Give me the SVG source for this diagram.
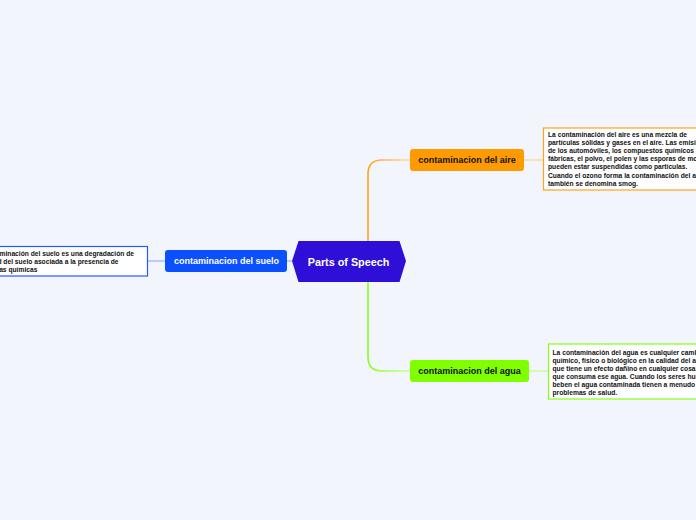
<svg xmlns="http://www.w3.org/2000/svg" width="696" height="520" viewBox="0 0 696 520">
<defs>
<style>
.bg{fill:#f3f5fd}
.lbl{font-family:"Liberation Sans",Arial,sans-serif;font-weight:bold;font-size:9px;text-anchor:middle;dominant-baseline:central}
.big{font-size:10.8px}
.note{font-family:"Liberation Sans",Arial,sans-serif;font-weight:bold;font-size:6.7px;fill:#111}
.conn{fill:none;stroke-width:1.6}
</style>
<linearGradient id="gO" gradientUnits="userSpaceOnUse" x1="368" y1="0" x2="410" y2="0">
<stop offset="0" stop-color="#ffa31a"/><stop offset="1" stop-color="#ffd9a3"/>
</linearGradient>
<linearGradient id="gG" gradientUnits="userSpaceOnUse" x1="368" y1="0" x2="410" y2="0">
<stop offset="0" stop-color="#86ff14"/><stop offset="1" stop-color="#c8ff99"/>
</linearGradient>
</defs>
<rect class="bg" x="0" y="0" width="696" height="520"/>
<g id="connectors">
<path class="conn" stroke="url(#gO)" d="M368 241 V174 Q368 160 382 160 H410"/>
<path class="conn" stroke="url(#gG)" d="M368 282 V357 Q368 371 382 371 H410"/>
<path class="conn" stroke="#ffd9a3" d="M524 160 H543"/>
<path class="conn" stroke="#c8ff99" d="M529 371 H548"/>
<path class="conn" stroke="#a9c0ff" d="M287 261 H292"/>
<path class="conn" stroke="#a9c0ff" d="M148 261 H165"/>
</g>
<g id="central">
<path d="M292 261 L298.5 241 H399.5 L406 261 L399.5 282 H298.5 Z" fill="#2f0fd8"/>
<text class="lbl big" x="348.5" y="261.5" fill="#ffffff">Parts of Speech</text>
</g>
<g id="aire">
<rect x="410" y="149" width="114" height="22" rx="3" fill="#ff9a00"/>
<text class="lbl" x="467" y="160" fill="#111">contaminacion del aire</text>
</g>
<g id="agua">
<rect x="410" y="360" width="119" height="22" rx="3" fill="#80ff00"/>
<text class="lbl" x="469.5" y="371" fill="#111">contaminacion del agua</text>
</g>
<g id="suelo">
<rect x="165" y="250" width="122" height="22" rx="3" fill="#0a50ff"/>
<text class="lbl" x="226.5" y="261" fill="#ffffff">contaminacion del suelo</text>
</g>
<g id="nota-aire">
<rect x="543.5" y="128" width="160" height="62" fill="#ffffff" stroke="#ffa31a" stroke-width="1.2"/>
<text class="note" x="548" y="136.5">La contaminación del aire es una mezcla de</text>
<text class="note" x="548" y="144.7">partículas sólidas y gases en el aire. Las emisiones</text>
<text class="note" x="548" y="152.9">de los automóviles, los compuestos químicos de</text>
<text class="note" x="548" y="161.1">fábricas, el polvo, el polen y las esporas de moho</text>
<text class="note" x="548" y="169.3">pueden estar suspendidas como partículas.</text>
<text class="note" x="548" y="177.5">Cuando el ozono forma la contaminación del aire</text>
<text class="note" x="548" y="185.7">también se denomina smog.</text>
</g>
<g id="nota-agua">
<rect x="548.5" y="344" width="160" height="55" fill="#ffffff" stroke="#86ff14" stroke-width="1.2"/>
<text class="note" x="552.5" y="354.5">La contaminación del agua es cualquier cambio</text>
<text class="note" x="552.5" y="362.5">químico, físico o biológico en la calidad del agua</text>
<text class="note" x="552.5" y="370.5">que tiene un efecto dañino en cualquier cosa viva</text>
<text class="note" x="552.5" y="378.5">que consuma ese agua. Cuando los seres humanos</text>
<text class="note" x="552.5" y="386.5">beben el agua contaminada tienen a menudo</text>
<text class="note" x="552.5" y="394.5">problemas de salud.</text>
</g>
<g id="nota-suelo">
<rect x="-40" y="246.5" width="187.5" height="29.5" fill="#ffffff" stroke="#1f5bff" stroke-width="1.2"/>
<text class="note" x="-28" y="255.5">La contaminación del suelo es una degradación de</text>
<text class="note" x="-29" y="263.5">la calidad del suelo asociada a la presencia de</text>
<text class="note" x="-28" y="271.5">sustancias químicas</text>
</g>
</svg>
